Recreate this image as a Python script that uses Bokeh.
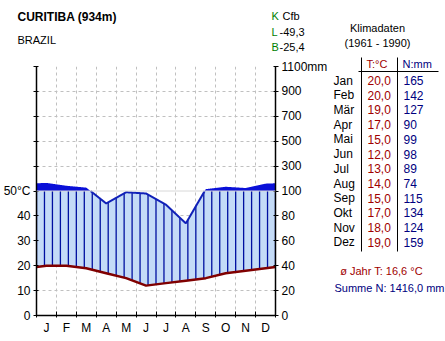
import numpy as np
from bokeh.plotting import figure
from bokeh.layouts import row, column
from bokeh.models import FixedTicker, LinearAxis, Span
from bokeh.core.properties import value
from bokeh.embed import file_html
from bokeh.resources import INLINE

# ---- data ----
months_short = ["J", "F", "M", "A", "M", "J", "J", "A", "S", "O", "N", "D"]
months_table = ["Jan", "Feb", "Mär", "Apr", "Mai", "Jun", "Jul", "Aug", "Sep", "Okt", "Nov", "Dez"]
temp_c = [20.0, 20.0, 19.0, 17.0, 15.0, 12.0, 13.0, 14.0, 15.0, 17.0, 18.0, 19.0]
precip_mm = [165, 142, 127, 90, 99, 98, 89, 74, 115, 134, 124, 159]
left_tick_vals = [0, 10, 20, 30, 40, 50, 60, 70, 80, 90, 100]
left_tick_labels = ["0", "10", "20", "30", "40", "50°C", "", "", "", "", ""]
right_tick_labels = ["0", "20", "40", "60", "80", "100", "300", "500", "700", "900", "1100mm"]
station = "CURITIBA (934m)"
country = "BRAZIL"
koeppen = "Cfb"
lon = "-49,3"
lat = "-25,4"
year_temp = "16,6"
year_precip = "1416,0"

W, H = 445, 341
LW = 330          # width of left column (chart)
TOPH = 55         # height of header strip above chart
FONT = "Liberation Sans"
FS = "11px"
NAVY = "#000080"
DRED = "#a00000"
GREEN = "#008000"


def scale_p(p):
    p = np.asarray(p, dtype=float)
    return np.where(p <= 100, p / 2.0, 50 + (p - 100) / 20.0)


# wrap months, points at month centres
xc = np.arange(12) + 0.5
x_ext = np.concatenate([[0.0], xc, [12.0]])
t_arr = np.array(temp_c)
p_s = scale_p(precip_mm)
t_edge = (t_arr[0] + t_arr[-1]) / 2
p_edge = (p_s[0] + p_s[-1]) / 2
t_ext = np.concatenate([[t_edge], t_arr, [t_edge]])
p_ext = np.concatenate([[p_edge], p_s, [p_edge]])

xd = np.linspace(0, 12, 2401)
td = np.interp(xd, x_ext, t_ext)
pd_ = np.interp(xd, x_ext, p_ext)
p_low = np.minimum(pd_, 50)
p_high = np.maximum(pd_, 50)


def text_fig(w, h, x0, y0):
    f = figure(width=w, height=h, x_range=(x0, x0 + w), y_range=(y0 + h, y0),
               output_backend="svg", toolbar_location=None,
               min_border=0, x_axis_location=None, y_axis_location=None)
    f.outline_line_color = None
    f.xgrid.visible = False
    f.ygrid.visible = False
    return f


def txt(f, xs, ys, texts, color="black", bold=False, align="left", size=FS):
    f.text(x=xs, y=ys, text=texts, text_color=color,
           text_font=value(FONT), text_font_size=size,
           text_font_style="bold" if bold else "normal",
           text_align=align, text_baseline="middle")


# ---------- header strip (full width) ----------
top = text_fig(W, TOPH, 0, 0)
txt(top, [17], [16], [station], bold=True, size="12px")
txt(top, [17], [39], [country])
txt(top, [271, 271, 271], [15, 31, 46], ["K", "L", "B"], GREEN)
txt(top, [282, 279, 279], [15, 31, 46], [koeppen, lon, lat])
txt(top, [377, 377], [27, 42], ["Klimadaten", "(1961 - 1990)"], align="center")

# ---------- chart ----------
ch = H - TOPH
p = figure(width=LW, height=ch, x_range=(0, 12), y_range=(0, 100),
           output_backend="svg", toolbar_location=None,
           min_border_left=35, min_border_right=LW - 275,
           min_border_top=66 - TOPH, min_border_bottom=H - 315,
           y_axis_location=None, x_axis_location=None)
p.outline_line_color = None
p.background_fill_color = "white"

p.xgrid.ticker = FixedTicker(ticks=list(range(1, 12)))
p.ygrid.ticker = FixedTicker(ticks=[10, 20, 30, 40, 60, 70, 80, 90])
for g in (p.xgrid, p.ygrid):
    g.grid_line_color = "#c0c0c0"
    g.grid_line_dash = "3 3"
    g.grid_line_width = 1
p.add_layout(Span(location=50, dimension="width", line_color="#d8d8d8", line_width=1))

p.varea(x=xd, y1=td, y2=p_low, fill_color="#c4dbf7")
p.varea(x=xd, y1=50, y2=p_high, fill_color="#0a10d8")

xh = np.arange(0, 12.001, 0.4)
th = np.interp(xh, x_ext, t_ext)
ph = np.minimum(np.interp(xh, x_ext, p_ext), 50)
p.segment(x0=xh, y0=th, x1=xh, y1=ph, line_color="#0010a0", line_width=1.3)

p_line = np.where(pd_ <= 50.0001, pd_, np.nan)
p.line(xd, p_line, line_color="#1020b8", line_width=2)
p.line(x_ext, t_ext, line_color="#800000", line_width=2.5)


def style_axis(ax):
    ax.axis_line_color = "black"
    ax.axis_line_width = 1.5
    ax.major_tick_line_color = "black"
    ax.major_tick_in = 2
    ax.major_tick_out = 3
    ax.minor_tick_line_color = None
    ax.major_label_text_font = FONT
    ax.major_label_text_font_size = "12px"
    ax.major_label_text_font_style = "normal"
    ax.major_label_text_color = "black"
    ax.major_label_standoff = 3


lax = LinearAxis(ticker=FixedTicker(ticks=left_tick_vals))
lax.major_label_overrides = {v: s for v, s in zip(left_tick_vals, left_tick_labels)}
style_axis(lax)
p.add_layout(lax, "left")

rax = LinearAxis(ticker=FixedTicker(ticks=left_tick_vals))
rax.major_label_overrides = {v: s for v, s in zip(left_tick_vals, right_tick_labels)}
style_axis(rax)
p.add_layout(rax, "right")

bax = LinearAxis(ticker=FixedTicker(ticks=list(xc), minor_ticks=list(range(13))))
bax.major_label_overrides = {float(x): m for x, m in zip(xc, months_short)}
style_axis(bax)
bax.major_tick_line_color = None
bax.minor_tick_line_color = "black"
bax.minor_tick_in = 4
bax.minor_tick_out = 2
bax.major_label_standoff = 2
p.add_layout(bax, "below")

# ---------- table ----------
tb = text_fig(W - LW, H - TOPH, LW, TOPH)
txt(tb, [366], [63], ["T:°C"], DRED)
txt(tb, [402], [63], ["N:mm"], NAVY)
tb.segment(x0=[358, 361, 397], y0=[71, 57, 57], x1=[438, 361, 397], y1=[71, 251, 251],
           line_color="black", line_width=1)
rows_y = [80 + i * 14.72 for i in range(12)]
txt(tb, [333] * 12, rows_y, months_table, size="12px")
txt(tb, [367] * 12, rows_y, [f"{t:.1f}".replace(".", ",") for t in temp_c], DRED, size="12px")
txt(tb, [403] * 12, rows_y, [str(v) for v in precip_mm], NAVY, size="12px")
txt(tb, [381], [270], [f"ø Jahr T: {year_temp} °C"], DRED, align="center")
txt(tb, [334], [287], [f"Summe N: {year_precip} mm"], NAVY)

layout = column(top, row(column(p, spacing=0), column(tb, spacing=0), spacing=0), spacing=0)
open("out.html", "w").write(file_html(layout, INLINE))
